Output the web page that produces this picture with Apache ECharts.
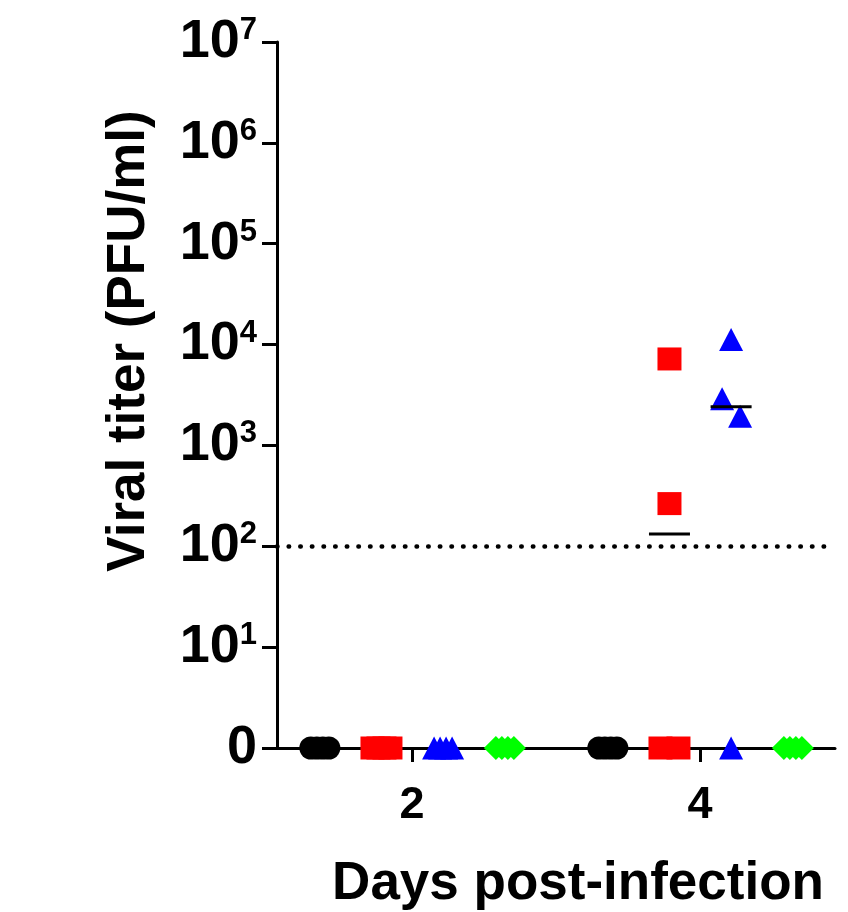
<!DOCTYPE html>
<html>
<head>
<meta charset="utf-8">
<script src="https://cdn.jsdelivr.net/npm/echarts@6/dist/echarts.min.js"></script>
<style>
  html, body { margin: 0; padding: 0; background: #fff; }
  #chart { width: 848px; height: 912px; }
</style>
</head>
<body>
<div id="chart"></div>
<script>
// Sampling days and the decades shown on the titer axis
const days = [2, 4];
const yDecades = [0, 1, 2, 3, 4, 5, 6, 7];
const detectionLimit = 100; // PFU/ml

// Titer of each animal (PFU/ml); 0 = below detection
const blackDay2 = [0, 0, 0, 0];
const blackDay4 = [0, 0, 0, 0];
const redDay2 = [0, 0, 0, 0];
const redDay4 = [7200, 265, 0, 0];
const blueDay2 = [0, 0, 0, 0];
const blueDay4 = [11200, 2900, 1950, 0];
const greenDay2 = [0, 0, 0, 0];
const greenDay4 = [0, 0, 0, 0];

const FONT = '"Liberation Sans", Arial, Helvetica, sans-serif';

// Groups, drawn side by side around each day
const groups = [
  { name: 'Group 1', color: '#000000', symbol: 'circle',   size: [23, 23], offset: -0.64,  values: [blackDay2, blackDay4] },
  { name: 'Group 2', color: '#ff0000', symbol: 'rect',     size: [24, 23], offset: -0.212, values: [redDay2, redDay4] },
  { name: 'Group 3', color: '#0000ff', symbol: 'triangle', size: [24, 23], offset: 0.216,  values: [blueDay2, blueDay4] },
  { name: 'Group 4', color: '#00ff00', symbol: 'diamond',  size: [24, 24], offset: 0.645,  values: [greenDay2, greenDay4] }
];

// Undetectable samples sit on the axis floor (labelled "0")
const floorValue = 1;
const plotValue = v => (v > 0 ? v : floorValue);

// Points that would overlap vertically are spread side by side
const overlapDecades = 0.23;
const spreadWidth = 0.125; // total width of a spread cluster, in days

function placePoints(vals, center) {
  const idx = vals.map((v, i) => i).sort((a, b) => vals[b] - vals[a]);
  const out = new Array(vals.length);
  let cluster = [];
  const flush = () => {
    const n = cluster.length;
    cluster.forEach((i, k) => {
      const dx = n > 1 ? -spreadWidth / 2 + (spreadWidth * k) / (n - 1) : 0;
      out[i] = [center + dx, plotValue(vals[i]), vals[i]];
    });
    cluster = [];
  };
  idx.forEach(i => {
    if (cluster.length) {
      const last = cluster[cluster.length - 1];
      const d = Math.abs(Math.log10(plotValue(vals[last])) - Math.log10(plotValue(vals[i])));
      if (d >= overlapDecades) flush();
    }
    cluster.push(i);
  });
  flush();
  return out;
}

function median(arr) {
  const s = arr.slice().sort((a, b) => a - b);
  const m = Math.floor(s.length / 2);
  return s.length % 2 ? s[m] : (s[m - 1] + s[m]) / 2;
}

const series = [];
const medianData = [];
groups.forEach(g => {
  const data = [];
  days.forEach((d, di) => {
    const vals = g.values[di];
    placePoints(vals, d + g.offset).forEach(p => data.push(p));
    const med = median(vals);
    if (med > 0) medianData.push([d + g.offset, med]);
  });
  series.push({
    name: g.name,
    type: 'scatter',
    symbol: g.symbol,
    symbolSize: g.size,
    itemStyle: { color: g.color, opacity: 1 },
    data: data,
    z: 3,
    silent: true
  });
});

// Median bars, plus the dotted detection-limit line
series.push({
  type: 'custom',
  name: 'Median',
  data: medianData,
  z: 4,
  silent: true,
  renderItem: function (params, api) {
    const p = api.coord([api.value(0), api.value(1)]);
    return {
      type: 'line',
      shape: { x1: p[0] - 20.5, y1: p[1], x2: p[0] + 20.5, y2: p[1] },
      style: { stroke: '#000', lineWidth: 3 }
    };
  },
  markLine: {
    silent: true,
    symbol: 'none',
    label: { show: false },
    lineStyle: { color: '#000', width: 4.5, type: [0.5, 11.13], cap: 'round' },
    data: [{ yAxis: detectionLimit }]
  }
});

const chart = echarts.init(document.getElementById('chart'), null, { renderer: 'canvas' });
chart.setOption({
  animation: false,
  backgroundColor: '#ffffff',
  grid: { left: 277, right: 13, top: 42, bottom: 164 },
  xAxis: {
    type: 'value',
    min: 1.0625,
    max: 4.9375,
    splitLine: { show: false },
    axisLine: { lineStyle: { color: '#000', width: 3 } },
    axisTick: { show: true, customValues: days, length: 14, lineStyle: { color: '#000', width: 3 } },
    axisLabel: {
      customValues: days,
      margin: 35,
      color: '#000',
      fontSize: 45,
      fontWeight: 'bold',
      fontFamily: FONT
    }
  },
  yAxis: {
    type: 'log',
    logBase: 10,
    min: Math.pow(10, yDecades[0]),
    max: Math.pow(10, yDecades[yDecades.length - 1]),
    splitNumber: yDecades.length - 1,
    splitLine: { show: false },
    axisLine: { show: true, lineStyle: { color: '#000', width: 3 } },
    axisTick: { show: true, length: 15, lineStyle: { color: '#000', width: 3 } },
    axisLabel: {
      margin: 20,
      color: '#000',
      formatter: function (v) {
        const e = Math.round(Math.log10(v));
        return e === 0 ? '{b|0}' : '{b|10}{s|' + e + '}';
      },
      rich: {
        b: { fontSize: 54, fontWeight: 'bold', fontFamily: FONT, color: '#000', lineHeight: 54 },
        s: { fontSize: 31, fontWeight: 'bold', fontFamily: FONT, color: '#000', lineHeight: 31, verticalAlign: 'top' }
      }
    }
  },
  graphic: [
    {
      type: 'text',
      x: 129,
      y: 341,
      rotation: Math.PI / 2,
      style: {
        text: 'Viral titer (PFU/ml)',
        fill: '#000',
        font: 'bold 53px ' + FONT,
        align: 'center',
        verticalAlign: 'middle'
      }
    },
    {
      type: 'text',
      x: 578,
      y: 884,
      style: {
        text: 'Days post-infection',
        fill: '#000',
        font: 'bold 53px ' + FONT,
        align: 'center',
        verticalAlign: 'middle'
      }
    }
  ],
  series: series
});
</script>
</body>
</html>
